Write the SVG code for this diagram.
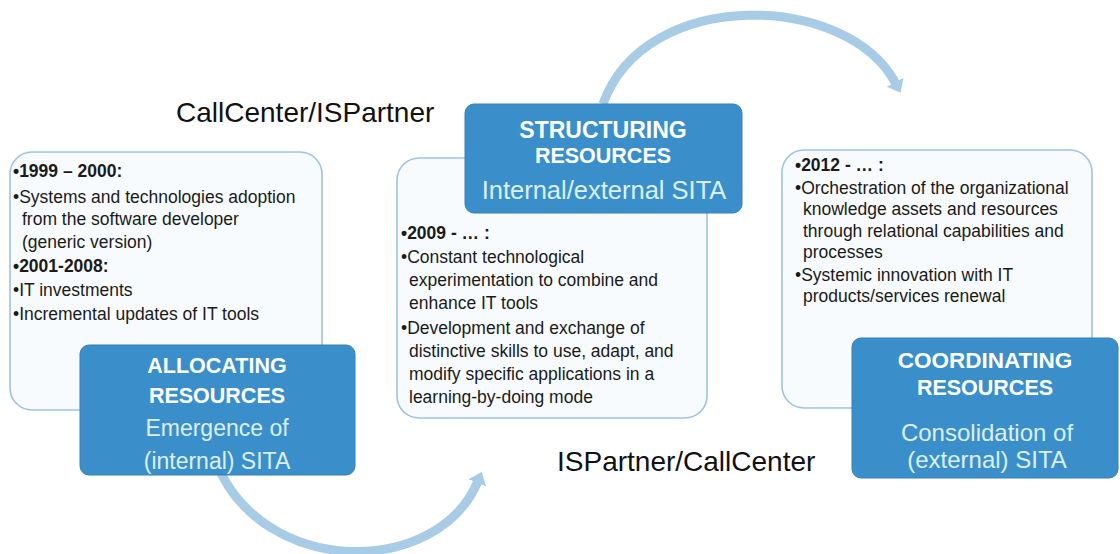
<svg xmlns="http://www.w3.org/2000/svg" width="1120" height="554" viewBox="0 0 1120 554">
  <style>
    .panel { fill: #f7fbfd; stroke: #9dc4df; stroke-width: 1.6; }
    .phase { fill: #3a8fca; stroke: #3480b7; stroke-width: 1; }
    .body { font-family: "Liberation Sans", Arial, sans-serif; font-size: 17.5px; fill: #1a1a1a; }
    .body .yr { font-weight: bold; }
    .title { font-family: "Liberation Sans", Arial, sans-serif; font-size: 21.5px; font-weight: bold; fill: #ffffff; text-anchor: middle; }
    .sub { font-family: "Liberation Sans", Arial, sans-serif; font-size: 23px; fill: #dcefff; text-anchor: middle; }
    .actor { font-family: "Liberation Sans", Arial, sans-serif; font-size: 28px; fill: #111111; }
    .flow { fill: none; stroke: #a8cbe6; stroke-width: 9; }
  </style>
  <defs>
    <marker id="head" viewBox="0 0 12 20" refX="2" refY="10" markerWidth="1.3" markerHeight="2.1" orient="auto" markerUnits="strokeWidth" preserveAspectRatio="none">
      <path d="M0,0 L12,10 L0,20 z" fill="#a8cbe6"/>
    </marker>
  </defs>

  <rect width="1120" height="554" fill="#ffffff"/>

  <!-- cycle arrows between phases -->
  <g id="connectors">
    <path class="flow" d="M603,104 C645,-14 848,-8 896,84" marker-end="url(#head)"/>
    <path class="flow" d="M216,462 C262,578 438,578 478,481" marker-end="url(#head)"/>
  </g>

  <!-- actor labels -->
  <text class="actor" x="176" y="122">CallCenter/ISPartner</text>
  <text class="actor" x="557" y="471">ISPartner/CallCenter</text>

  <!-- phase 1 -->
  <g id="allocating">
    <rect class="panel" x="10" y="152" width="312" height="258" rx="22"/>
    <text class="body">
      <tspan class="yr" x="13" y="177">•1999 – 2000:</tspan>
      <tspan x="13" y="203">•Systems and technologies adoption</tspan>
      <tspan x="22" y="225">from the software developer</tspan>
      <tspan x="22" y="248">(generic version)</tspan>
      <tspan class="yr" x="13" y="272">•2001-2008:</tspan>
      <tspan x="13" y="296">•IT investments</tspan>
      <tspan x="13" y="320">•Incremental updates of IT tools</tspan>
    </text>
    <rect class="phase" x="80" y="345" width="275" height="130" rx="9"/>
    <text class="title" x="217" y="373">ALLOCATING</text>
    <text class="title" x="217" y="403">RESOURCES</text>
    <text class="sub" x="217" y="436">Emergence of</text>
    <text class="sub" x="217" y="469">(internal) SITA</text>
  </g>

  <!-- phase 2 -->
  <g id="structuring">
    <rect class="panel" x="397" y="158" width="310" height="260" rx="22"/>
    <text class="body">
      <tspan class="yr" x="401" y="239">•2009 - … :</tspan>
      <tspan x="401" y="263">•Constant technological</tspan>
      <tspan x="409" y="286">experimentation to combine and</tspan>
      <tspan x="409" y="309">enhance IT tools</tspan>
      <tspan x="401" y="334">•Development and exchange of</tspan>
      <tspan x="409" y="357">distinctive skills to use, adapt, and</tspan>
      <tspan x="409" y="380">modify specific applications in a</tspan>
      <tspan x="409" y="403">learning-by-doing mode</tspan>
    </text>
    <rect class="phase" x="465" y="104" width="277" height="109" rx="9"/>
    <text class="title" x="603" y="138" style="font-size:23px">STRUCTURING</text>
    <text class="title" x="603" y="163">RESOURCES</text>
    <text class="sub" x="604" y="199" style="font-size:25.5px">Internal/external SITA</text>
  </g>

  <!-- phase 3 -->
  <g id="coordinating">
    <rect class="panel" x="782" y="150" width="310" height="258" rx="22"/>
    <text class="body">
      <tspan class="yr" x="795" y="171">•2012 - … :</tspan>
      <tspan x="795" y="194">•Orchestration of the organizational</tspan>
      <tspan x="803" y="215">knowledge assets and resources</tspan>
      <tspan x="803" y="237">through relational capabilities and</tspan>
      <tspan x="803" y="258">processes</tspan>
      <tspan x="795" y="281">•Systemic innovation with IT</tspan>
      <tspan x="803" y="302">products/services renewal</tspan>
    </text>
    <rect class="phase" x="852" y="338" width="266" height="140" rx="9"/>
    <text class="title" x="985" y="368" style="font-size:22.5px">COORDINATING</text>
    <text class="title" x="985" y="395">RESOURCES</text>
    <text class="sub" x="987" y="441" style="font-size:24px">Consolidation of</text>
    <text class="sub" x="987" y="468" style="font-size:24px">(external) SITA</text>
  </g>
</svg>
